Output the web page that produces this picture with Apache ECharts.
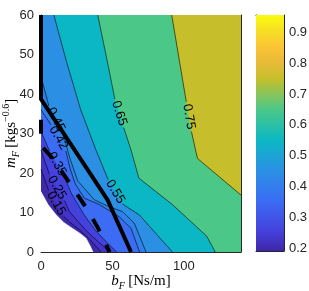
<!DOCTYPE html>
<html><head><meta charset="utf-8">
<script src="https://cdn.jsdelivr.net/npm/echarts@6/dist/echarts.min.js"></script>
<style>html,body{margin:0;padding:0;background:#fff}#c{width:309px;height:291px}</style>
</head><body><div id="c"></div>
<script>
// ---- axis ranges / ticks ----
const X_MAX = 140, Y_MAX = 60;
const xTicks = [0, 50, 100];
const yTicks = [0, 10, 20, 30, 40, 50, 60];
const CB_MIN = 0.191, CB_MAX = 0.956;
const cbTicks = [0.2, 0.3, 0.4, 0.5, 0.6, 0.7, 0.8, 0.9];

// ---- contour lines [bF, mF]; null = gap for inline label ----
const levels = ['0.15', '0.25', '0.35', '0.42', '0.45', '0.55', '0.65', '0.75'];
const c015 = [[0,21],[5.35,15.6],null,[15.85,9],[20,7.6],[27,5.6],[33,3.6],[38,1.6],[42,0]];
const c025 = [[0,25.8],[5.95,19.6],null,[16.45,13],[20,10.2],[31.6,5.4],[40,2.6],[45.5,0.9],[47.5,0]];
const c035 = [[0,30.5],[5.95,25.6],null,[16.45,19],[21,15],[30,9.5],[38,5.5],[47.8,1.8],[53,0]];
const c042 = [[0,36],[7,32.2],null,[17.4,25.6],[20.5,21],[24,17.2],[30.4,13.6],[40.9,12],[54.8,8.9],[63,6],[69,0]];
const c045 = [[0,44.5],[5.5,37],null,[15.5,30],[20,24],[25.7,18],[37.4,13.2],[47,11.6],[57.1,10.2],[65.3,7.3],[73.5,0]];
const c055 = [[9,60],[18,48],[27.8,36],[38.5,25.8],[47,18.3],null,[57,12.2],[60.6,11.3],[68.8,9.4],[80.4,4.7],[92,0]];
const c065 = [[39.7,60],[46,49],[51.7,38.7],null,[57.9,31.5],[63,25.8],[68.5,18.7],[92,12],[116,4],[122,0]];
const c075 = [[91.5,60],[101.7,38],null,[105.3,30.5],[109.5,23.7],[140,14.4]];
const noDataEdge = [[0,15.3],[5,12],[10.6,9.4],[16,7.5],[22,6],[27,4.8],[31.6,3.5],[34.5,1.5],[36.5,0]];
const boundSolid = [[0,60],[0,38.7],[46.6,13.2],[63,0]];
const boundDashed = [[0,33.5],[0,27],[8,23.8],[19,18],[32,11],[40,6],[48,0]];

// ---- styles ----
const bandColors = ['#3d2aa6','#4433c8','#4442dc','#3b6cf3','#3080ea','#2b90e4','#0cb7c5','#4bc887','#c6bf2b'];
const parulaStops = [[0,'#3e26a8'],[0.08,'#4540dc'],[0.21,'#3b6cf4'],[0.34,'#2b90e4'],[0.47,'#0cb8c4'],
  [0.60,'#4bc888'],[0.73,'#c6c02b'],[0.80,'#e9ba38'],[0.87,'#fcc635'],[0.93,'#f6de25'],[1,'#f9fb0e']];
const AX = '#262626';

const contours = [c015,c025,c035,c042,c045,c055,c065,c075];

function perim(p){
  if (p[1] <= 1e-9) return p[0];
  if (p[0] >= X_MAX - 1e-9) return X_MAX + p[1];
  if (p[1] >= Y_MAX - 1e-9) return X_MAX + Y_MAX + (X_MAX - p[0]);
  return 2 * X_MAX + Y_MAX + (Y_MAX - p[1]);
}
function superPolygon(pts){
  const clean = pts.filter(Boolean);
  const ts = perim(clean[0]), te = perim(clean[clean.length - 1]);
  const corners = [[X_MAX,0,X_MAX],[X_MAX,Y_MAX,X_MAX+Y_MAX],[0,Y_MAX,2*X_MAX+Y_MAX]];
  return clean.concat(corners.filter(c => c[2] > te && c[2] < ts).map(c => [c[0], c[1]]));
}
const polys = [[[0,0],[X_MAX,0],[X_MAX,Y_MAX],[0,Y_MAX]]]
  .concat(contours.map(superPolygon))
  .concat([noDataEdge.concat([[0,0]])]);
const polyColors = bandColors.concat(['#ffffff']);

function gapEnds(pts){
  const k = pts.indexOf(null);
  return [pts[k-1], pts[k+1]];
}

const chart = echarts.init(document.getElementById('c'), null, {renderer: 'canvas'});
const tickFont = {fontFamily: 'Liberation Sans', fontSize: 13, color: AX};
const serif = 'Liberation Serif';
const rich = {
  i: {fontFamily: serif, fontStyle: 'italic', fontSize: 15, lineHeight: 20, color: '#000'},
  s: {fontFamily: serif, fontStyle: 'italic', fontSize: 10, lineHeight: 10, verticalAlign: 'bottom', color: '#000'},
  r: {fontFamily: serif, fontSize: 15, lineHeight: 20, color: '#000'},
  p: {fontFamily: serif, fontSize: 10, lineHeight: 10, verticalAlign: 'top', color: '#000'}
};
const lineAx = {show: true, onZero: false, lineStyle: {color: AX, width: 1}};
const tickIn = (vals) => ({inside: true, length: 3, lineStyle: {color: AX}, customValues: vals});

const series = [];
series.push({
  type: 'custom', xAxisIndex: 0, yAxisIndex: 0, z: 1, silent: true, clip: true,
  data: polys.map((_, i) => [0, 0, i]),
  renderItem: function (params, api) {
    const i = api.value(2);
    return {type: 'polygon', shape: {points: polys[i].map(p => api.coord(p))},
      style: {fill: polyColors[i], stroke: polyColors[i], lineWidth: 0.4}};
  }
});
contours.forEach((pts) => {
  series.push({
    type: 'line', xAxisIndex: 0, yAxisIndex: 0, z: 2, silent: true, symbol: 'none', showSymbol: false,
    connectNulls: false, animation: false,
    lineStyle: {color: '#000', width: 0.6},
    data: pts.map(p => p ? p : ['-', '-'])
  });
});
series.push({
  type: 'custom', xAxisIndex: 0, yAxisIndex: 0, z: 3, silent: true,
  data: contours.map((pts, i) => { const g = gapEnds(pts); return [(g[0][0]+g[1][0])/2, (g[0][1]+g[1][1])/2, i]; }),
  renderItem: function (params, api) {
    const i = api.value(2);
    const g = gapEnds(contours[i]);
    const a = api.coord(g[0]), b = api.coord(g[1]);
    const ang = Math.atan2(b[1] - a[1], b[0] - a[0]);
    return {type: 'text', x: (a[0]+b[0])/2, y: (a[1]+b[1])/2, rotation: -ang,
      style: {text: levels[i], fontFamily: 'Liberation Sans', fontSize: 13, fill: '#000',
        align: 'center', verticalAlign: 'middle'}};
  }
});
series.push({
  type: 'line', xAxisIndex: 0, yAxisIndex: 0, z: 4, silent: true, symbol: 'none', clip: false, animation: false,
  lineStyle: {color: '#000', width: 4}, data: boundSolid
});
series.push({
  type: 'line', xAxisIndex: 0, yAxisIndex: 0, z: 4, silent: true, symbol: 'none', clip: false, animation: false,
  lineStyle: {color: '#000', width: 4, type: [14, 15]}, data: boundDashed
});
// colorbar
series.push({
  type: 'custom', xAxisIndex: 2, yAxisIndex: 2, z: 1, silent: true,
  data: [[0, CB_MIN]],
  renderItem: function (params, api) {
    const p0 = api.coord([0, CB_MAX]), p1 = api.coord([1, CB_MIN]);
    return {type: 'rect', shape: {x: p0[0], y: p0[1], width: p1[0]-p0[0], height: p1[1]-p0[1]},
      style: {fill: new echarts.graphic.LinearGradient(0, 1, 0, 0,
        parulaStops.map(s => ({offset: s[0], color: s[1]})))}};
  }
});

chart.setOption({
  animation: false,
  grid: [
    {left: 41, top: 15, width: 200, height: 237, containLabel: false, outerBoundsMode: 'none'},
    {left: 256, top: 15, width: 28, height: 236, containLabel: false, outerBoundsMode: 'none'}
  ],
  xAxis: [
    {gridIndex: 0, type: 'value', min: 0, max: X_MAX, interval: 50, position: 'bottom',
      axisLine: lineAx, axisTick: tickIn(xTicks),
      axisLabel: Object.assign({margin: 8, customValues: xTicks}, tickFont), splitLine: {show: false},
      name: '{i|b}{s|F} {r|[Ns/m]}', nameLocation: 'middle', nameGap: 19, nameMoveOverlap: false,
      nameTextStyle: {rich: rich}},
    {gridIndex: 0, type: 'value', min: 0, max: X_MAX, interval: 50, position: 'top',
      axisLine: lineAx, axisTick: tickIn(xTicks),
      axisLabel: {show: false}, splitLine: {show: false}},
    {gridIndex: 1, type: 'value', min: 0, max: 1, position: 'bottom',
      axisLine: lineAx, axisTick: {show: false}, axisLabel: {show: false}, splitLine: {show: false}},
    {gridIndex: 1, type: 'value', min: 0, max: 1, position: 'top',
      axisLine: lineAx, axisTick: {show: false}, axisLabel: {show: false}, splitLine: {show: false}}
  ],
  yAxis: [
    {gridIndex: 0, type: 'value', min: 0, max: Y_MAX, interval: 10, position: 'left',
      axisLine: lineAx, axisTick: tickIn(yTicks),
      axisLabel: Object.assign({margin: 7, customValues: yTicks}, tickFont), splitLine: {show: false},
      name: '{i|m}{s|F} {r|[kgs}{p|−0.6}{r|]}', nameLocation: 'middle', nameGap: 20, nameRotate: 90,
      nameMoveOverlap: false, nameTextStyle: {rich: rich}},
    {gridIndex: 0, type: 'value', min: 0, max: Y_MAX, interval: 10, position: 'right',
      axisLine: lineAx, axisTick: tickIn(yTicks),
      axisLabel: {show: false}, splitLine: {show: false}},
    {gridIndex: 1, type: 'value', min: CB_MIN, max: CB_MAX, position: 'right',
      axisLine: lineAx, axisTick: tickIn(cbTicks),
      axisLabel: Object.assign({margin: 5, customValues: cbTicks, formatter: v => v.toFixed(1)}, tickFont),
      splitLine: {show: false}},
    {gridIndex: 1, type: 'value', min: CB_MIN, max: CB_MAX, position: 'left',
      axisLine: lineAx, axisTick: {show: false}, axisLabel: {show: false}, splitLine: {show: false}}
  ],
  series: series
});
</script>
</body></html>
